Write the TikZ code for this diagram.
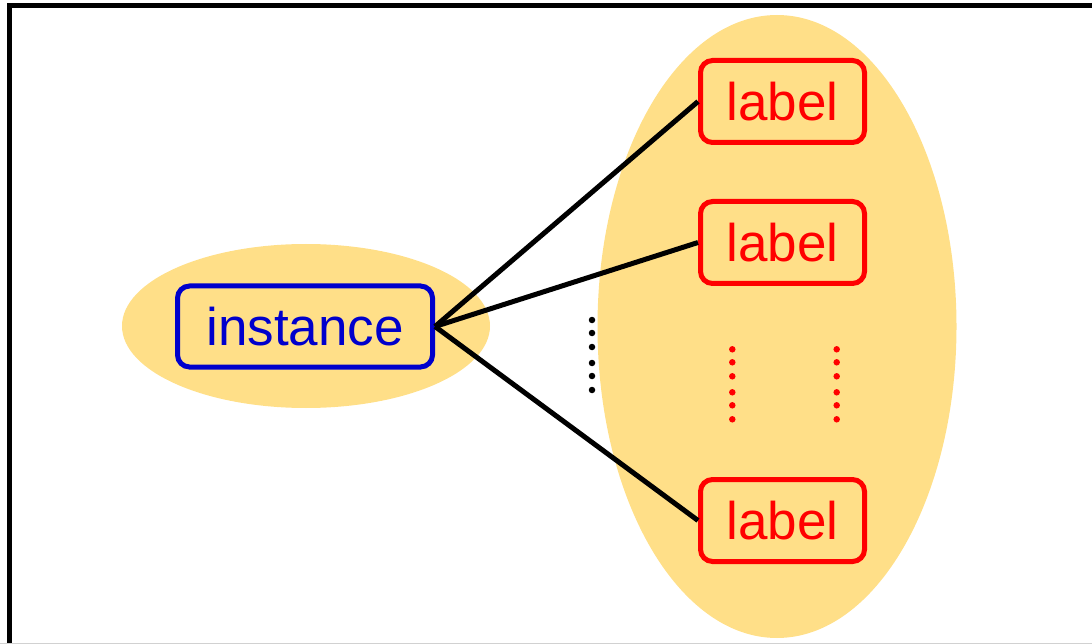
\documentclass[tikz,border=0pt]{standalone}
\usepackage{fontspec}
\setmainfont{Liberation Sans}
\definecolor{blobfill}{RGB}{255,223,136}
\definecolor{instblue}{RGB}{0,0,204}
\definecolor{labred}{RGB}{255,0,0}
\tikzset{
  blob/.style={fill=blobfill},
  instbox/.style={draw=instblue, text=instblue, line width=5pt, rounded corners=12pt,
    minimum width=255pt, minimum height=81pt, inner sep=0pt,
    font=\fontsize{53}{60}\selectfont},
  labbox/.style={draw=labred, text=labred, line width=5pt, rounded corners=12pt,
    minimum width=164pt, minimum height=82pt, inner sep=0pt,
    font=\fontsize{53}{60}\selectfont},
  link/.style={draw=black, line width=5pt},
  dot/.style={circle, inner sep=0pt, minimum size=6.5pt}
}
\begin{document}
\begin{tikzpicture}[x=1pt, y=-1pt]
  \useasboundingbox (0,0) rectangle (1092,644);
  % frame
  \draw[line width=5pt] (9.5,648) -- (9.5,5.8) -- (1100,5.8);
  \draw[line width=1pt, black!18] (0,643.5) -- (1092,643.5);
  % background blobs
  \fill[blob] (306,326) ellipse [x radius=184, y radius=82];
  \fill[blob] (777,326.5) ellipse [x radius=179.5, y radius=311.5];
  % boxes
  \node[instbox] (inst) at (305,326.5) {instance};
  \node[labbox] (l1) at (782.5,101.5) {label};
  \node[labbox] (l2) at (782.5,242.5) {label};
  \node[labbox] (l3) at (782.5,520.5) {label};
  % connectors
  \draw[link] (inst.east) -- (l1.west);
  \draw[link] (inst.east) -- (l2.west);
  \draw[link] (inst.east) -- (l3.west);
  % vertical ellipsis marks
  \foreach \y in {320,333,347,363,376,390}
    \node[dot, fill=black] at (592,\y) {};
  \foreach \y in {349.3,362.3,376.3,392.3,405.3,419.3} {
    \node[dot, fill=labred] at (732.3,\y) {};
    \node[dot, fill=labred] at (836.7,\y) {};
  }
\end{tikzpicture}
\end{document}
